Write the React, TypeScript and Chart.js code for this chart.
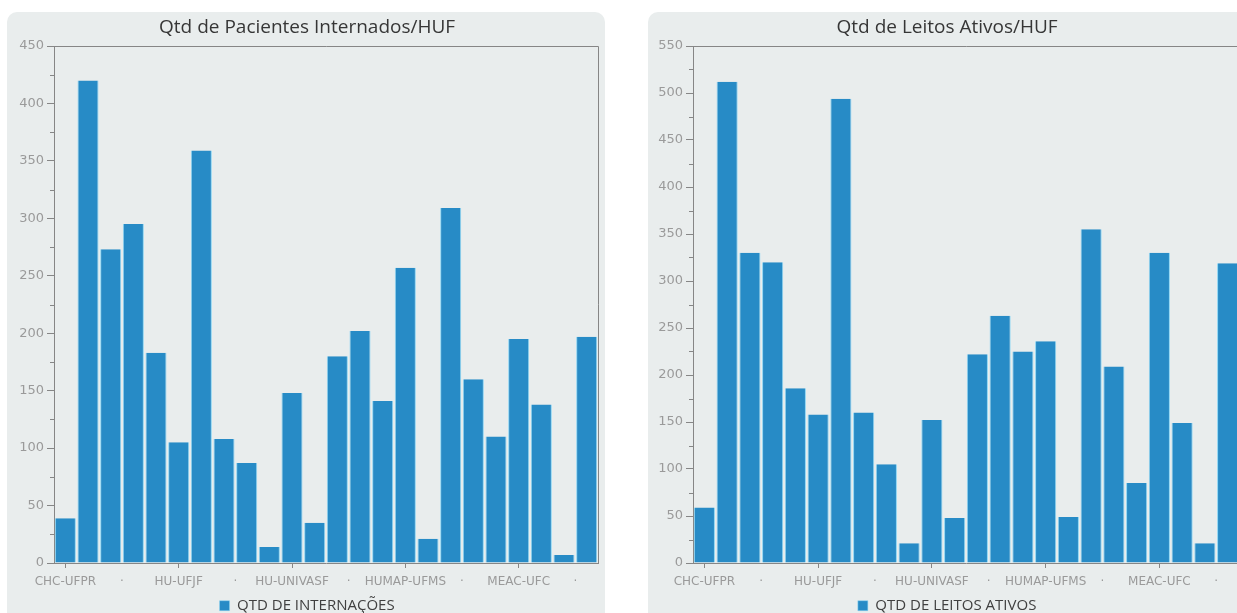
import React, { useEffect, useRef } from 'react';
import { Chart, registerables } from 'chart.js';

Chart.register(...registerables);

// ---- data ----
const categories = [
  'CHC-UFPR', '', '', '', '', 'HU-UFJF', '', '', '', '', 'HU-UNIVASF', '', '', '', '',
  'HUMAP-UFMS', '', '', '', '', 'MEAC-UFC', '', '', '',
];
const internacoes = [39, 420, 273, 295, 183, 105, 359, 108, 87, 14, 148, 35, 180, 202, 141, 257, 21, 309, 160, 110, 195, 138, 7, 197];
const leitosAtivos = [59, 512, 330, 320, 186, 158, 494, 160, 105, 21, 152, 48, 222, 263, 225, 236, 49, 355, 209, 85, 330, 149, 21, 319];
const tickPositions = [0, 2.5, 5, 7.5, 10, 12.5, 15, 17.5, 20, 22.5];
const tickLabels = ['CHC-UFPR', '·', 'HU-UFJF', '·', 'HU-UNIVASF', '·', 'HUMAP-UFMS', '·', 'MEAC-UFC', '·'];

const BAR = '#278bc6';
const BAR_EDGE = '#8fd6f3';
const CARD_BG = '#e9eded';
const AXIS = '#868686';
const TICK_TEXT = '#9a9a9a';

const framePlugin = {
  id: 'frame',
  afterDraw(chart: any) {
    const { ctx, chartArea: a, scales } = chart;
    ctx.save();
    ctx.strokeStyle = AXIS;
    ctx.lineWidth = 1;
    ctx.beginPath();
    ctx.moveTo(a.left, Math.round(a.top) + 0.5);
    ctx.lineTo(Math.round(a.right) + 0.5, Math.round(a.top) + 0.5);
    ctx.lineTo(Math.round(a.right) + 0.5, a.bottom);
    const y = scales.y;
    y.ticks.forEach((t: any) => {
      if (t.value % 50 !== 0) {
        const py = Math.round(y.getPixelForValue(t.value)) + 0.5;
        ctx.moveTo(a.left - 4, py);
        ctx.lineTo(a.left, py);
      }
    });
    ctx.stroke();
    ctx.restore();
  },
};

function BarCard(props: { left: number; padLeft: number; title: string; legend: string; values: number[]; yMax: number }) {
  const ref = useRef<HTMLCanvasElement>(null);
  useEffect(() => {
    if (!ref.current) return;
    const chart = new Chart(ref.current, {
      type: 'bar',
      data: {
        labels: categories,
        datasets: [
          {
            label: props.legend,
            data: props.values,
            backgroundColor: BAR,
            borderColor: BAR_EDGE,
            borderWidth: { left: 1, right: 1, top: 0, bottom: 0 },
            borderSkipped: false,
            barPercentage: 0.93,
            categoryPercentage: 1,
            xAxisID: 'x',
          },
        ],
      },
      options: {
        responsive: false,
        animation: false,
        devicePixelRatio: 1,
        layout: { padding: { left: props.padLeft, right: 7, top: 0, bottom: 8.8 } },
        plugins: {
          title: {
            display: true,
            text: props.title,
            color: '#363636',
            font: { family: '"Open Sans", "Noto Sans", sans-serif', size: 19, weight: 'normal' },
            padding: { top: 4.6, bottom: 6.6 },
          },
          legend: {
            display: true,
            position: 'bottom',
            labels: {
              color: '#404040',
              font: { family: '"Open Sans", "Noto Sans", sans-serif', size: 15 },
              boxWidth: 10,
              boxHeight: 10,
              padding: 3.2,
            },
          },
          tooltip: { enabled: false },
        },
        scales: {
          x: {
            type: 'category',
            display: false,
            offset: true,
          },
          xl: {
            type: 'linear',
            position: 'bottom',
            min: -0.5,
            max: 23.5,
            offset: false,
            afterBuildTicks: (scale: any) => {
              scale.ticks = tickPositions.map((v) => ({ value: v }));
            },
            ticks: {
              autoSkip: false,
              maxRotation: 0,
              padding: 6.3,
              color: TICK_TEXT,
              font: { family: '"DejaVu Sans", sans-serif', size: 12 },
              callback: (_v: any, i: number) => tickLabels[i],
            },
            grid: {
              offset: false,
              drawOnChartArea: false,
              drawTicks: true,
              tickLength: 5,
              tickColor: (c: any) => (c.tick && Number.isInteger(c.tick.value) && c.tick.value % 5 === 0 ? AXIS : 'rgba(0,0,0,0)'),
            },
            border: { display: true, color: AXIS },
          },
          y: {
            min: 0,
            max: props.yMax,
            ticks: {
              stepSize: 25,
              autoSkip: false,
              padding: 3,
              color: TICK_TEXT,
              font: { family: '"DejaVu Sans", sans-serif', size: 13 },
              callback: (v: any) => (Number(v) % 50 === 0 ? String(v) : ''),
            },
            grid: {
              drawOnChartArea: false,
              drawTicks: true,
              tickLength: 7,
              tickColor: (c: any) => (c.tick && c.tick.value % 50 === 0 ? AXIS : 'rgba(0,0,0,0)'),
            },
            border: { display: true, color: AXIS },
          },
        },
      },
      plugins: [framePlugin],
    } as any);
    return () => chart.destroy();
  }, []);
  return (
    <div
      style={{
        position: 'absolute',
        left: props.left,
        top: 12,
        width: 598,
        height: 620,
        background: CARD_BG,
        borderRadius: 10,
        overflow: 'hidden',
      }}
    >
      <canvas ref={ref} width={598} height={620} style={{ display: 'block' }} />
    </div>
  );
}

export default function App() {
  return (
    <div
      style={{
        position: 'absolute',
        left: 0,
        top: 0,
        width: 1237,
        height: 613,
        overflow: 'hidden',
        background: '#ffffff',
      }}
    >
      <BarCard left={7} padLeft={9.2} title="Qtd de Pacientes Internados/HUF" legend="QTD DE INTERNAÇÕES" values={internacoes} yMax={450} />
      <BarCard left={648} padLeft={7.2} title="Qtd de Leitos Ativos/HUF" legend="QTD DE LEITOS ATIVOS" values={leitosAtivos} yMax={550} />
    </div>
  );
}
